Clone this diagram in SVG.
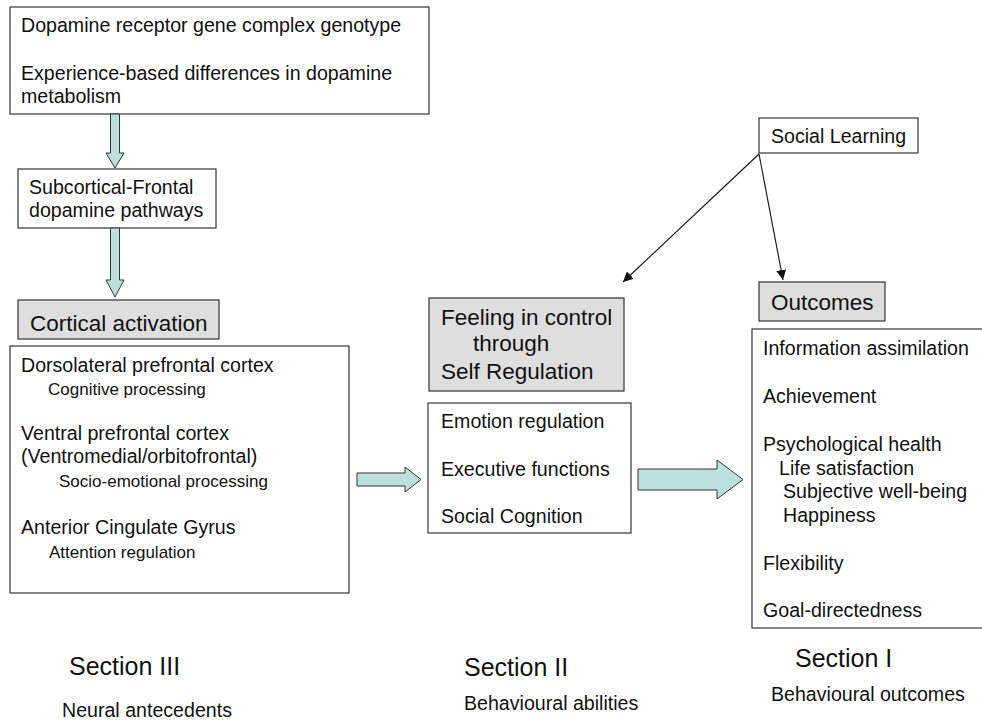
<svg xmlns="http://www.w3.org/2000/svg" width="982" height="720" viewBox="0 0 982 720">
<defs>
<style>
.box{fill:#fff;stroke:#333;stroke-width:1.2}
.gbox{fill:#dedede;stroke:#333;stroke-width:1.2}
.blk{fill:#bcdfe0;stroke:#333;stroke-width:1}
text{font-family:"Liberation Sans",Arial,Helvetica,sans-serif;fill:#111}
.m{font-size:19.6px}
.s{font-size:17px}
.h{font-size:22.5px}
.sec{font-size:25px}
.ln{stroke:#111;stroke-width:1.1;fill:none}
</style>
<marker id="ah" viewBox="0 0 10 10" refX="10" refY="5" markerWidth="10" markerHeight="10" markerUnits="userSpaceOnUse" orient="auto">
<path d="M0,0 L10,5 L0,10 Z" fill="#111"/>
</marker>
</defs>
<rect width="982" height="720" fill="#fff"/>

<g id="genotype">
<rect class="box" x="10" y="7" width="419" height="107"/>
<text class="m" x="21" y="32">Dopamine receptor gene complex genotype</text>
<text class="m" x="21" y="80">Experience-based differences in dopamine</text>
<text class="m" x="21" y="103">metabolism</text>
</g>

<g id="pathways">
<rect class="box" x="18" y="169" width="198" height="59"/>
<text class="m" x="29" y="194">Subcortical-Frontal</text>
<text class="m" x="29" y="217">dopamine pathways</text>
</g>

<g id="cortical-activation">
<rect class="gbox" x="18" y="300" width="201" height="39"/>
<text class="h" x="30" y="331">Cortical activation</text>
</g>

<g id="cortex-list">
<rect class="box" x="10" y="346" width="339" height="247"/>
<text class="m" x="21" y="372">Dorsolateral prefrontal cortex</text>
<text class="s" x="48" y="395">Cognitive processing</text>
<text class="m" x="21" y="440">Ventral prefrontal cortex</text>
<text class="m" x="21" y="463">(Ventromedial/orbitofrontal)</text>
<text class="s" x="59" y="487">Socio-emotional processing</text>
<text class="m" x="21" y="534">Anterior Cingulate Gyrus</text>
<text class="s" x="49" y="558">Attention regulation</text>
</g>

<g id="feeling-in-control">
<rect class="gbox" x="429" y="298" width="195" height="93"/>
<text class="h" x="441" y="325">Feeling in control</text>
<text class="h" x="473" y="351">through</text>
<text class="h" x="441" y="379">Self Regulation</text>
</g>

<g id="abilities-list">
<rect class="box" x="428" y="403" width="203" height="130"/>
<text class="m" x="441" y="428">Emotion regulation</text>
<text class="m" x="441" y="476">Executive functions</text>
<text class="m" x="441" y="523">Social Cognition</text>
</g>

<g id="social-learning">
<rect class="box" x="759" y="118" width="159" height="35"/>
<text class="m" x="771" y="143">Social Learning</text>
</g>

<g id="outcomes">
<rect class="gbox" x="759" y="282" width="126" height="39"/>
<text class="h" x="771" y="310">Outcomes</text>
</g>

<g id="outcomes-list">
<rect class="box" x="752" y="329" width="240" height="299"/>
<text class="m" x="763" y="355">Information assimilation</text>
<text class="m" x="763" y="403">Achievement</text>
<text class="m" x="763" y="451">Psychological health</text>
<text class="m" x="779" y="475">Life satisfaction</text>
<text class="m" x="783" y="498">Subjective well-being</text>
<text class="m" x="783" y="522">Happiness</text>
<text class="m" x="763" y="570">Flexibility</text>
<text class="m" x="763" y="617">Goal-directedness</text>
</g>

<g id="section-labels">
<text class="sec" x="69" y="675">Section III</text>
<text class="m" x="62" y="717">Neural antecedents</text>
<text class="sec" x="464" y="676">Section II</text>
<text class="m" x="464" y="710">Behavioural abilities</text>
<text class="sec" x="795" y="667">Section I</text>
<text class="m" x="771" y="701">Behavioural outcomes</text>
</g>

<g id="connectors">
<path class="blk" d="M110.5,114 L119.5,114 L119.5,153 L124,153 L115,168 L106,153 L110.5,153 Z"/>
<path class="blk" d="M110.5,228 L119.5,228 L119.5,280 L124,280 L115,297 L106,280 L110.5,280 Z"/>
<path class="blk" d="M357,473 L405,473 L405,467 L421,479.5 L405,492 L405,486 L357,486 Z"/>
<path class="blk" d="M638,469 L717,469 L717,460 L743,479.5 L717,499 L717,490 L638,490 Z"/>
<line class="ln" x1="759" y1="154" x2="623" y2="282" marker-end="url(#ah)"/>
<line class="ln" x1="759" y1="154" x2="783" y2="280" marker-end="url(#ah)"/>
</g>
</svg>
